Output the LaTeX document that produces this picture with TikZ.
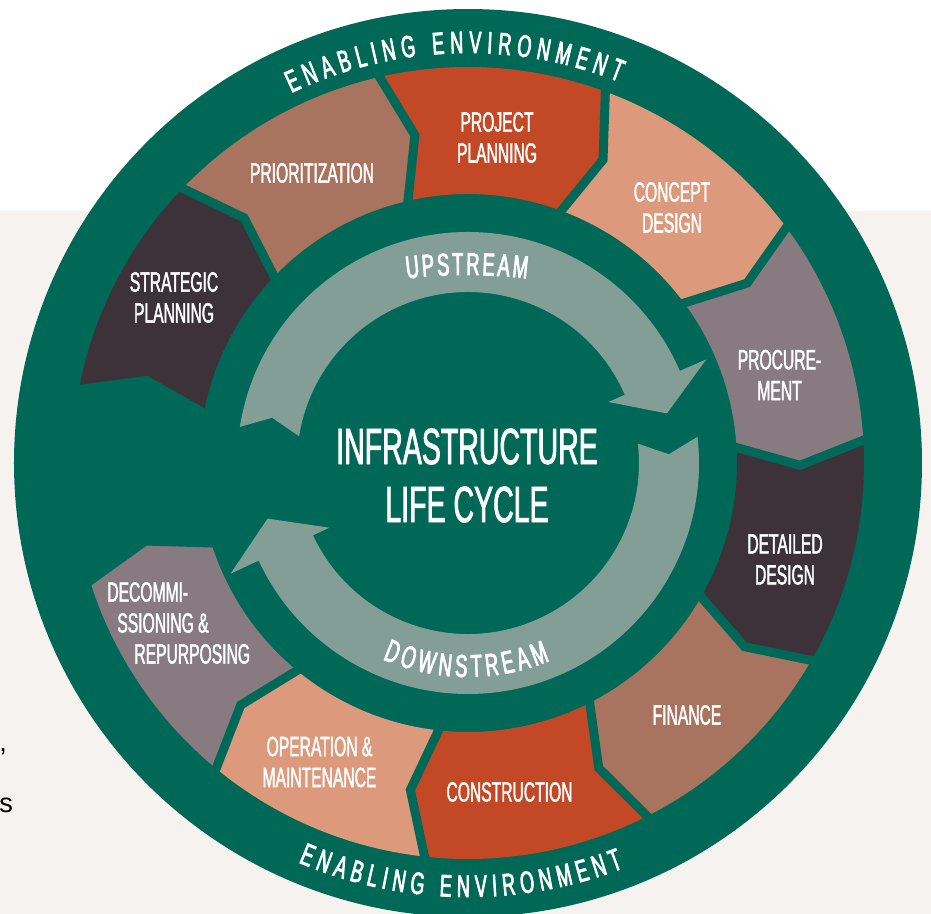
\documentclass[tikz,border=0pt]{standalone}
\usepackage{fontspec}
\usepackage{xcolor}
\usetikzlibrary{decorations.text,positioning}
\newfontfamily\condfont[FakeStretch=0.56,FakeBold=1.5]{Liberation Sans}
\newfontfamily\ringface[FakeStretch=0.58,FakeBold=2.5]{Liberation Sans}
\newfontfamily\fragfont{Liberation Sans}
\newcommand\ringfont{\ringface\fontsize{17.6}{20}\selectfont}
\newcommand\flowfont{\ringface\fontsize{18}{20}\selectfont}
\definecolor{envgreen}{HTML}{006857}
\definecolor{arrowgray}{HTML}{839E97}
\definecolor{pagebeige}{HTML}{F6F2EF}
\definecolor{stagedark}{HTML}{3D3239}
\definecolor{stagebrown}{HTML}{A8735F}
\definecolor{stagered}{HTML}{C24826}
\definecolor{stagesalmon}{HTML}{DC997B}
\definecolor{stagemauve}{HTML}{877B81}
\tikzset{%
	stagetext/.style = {text=white, align=center, inner sep=0pt, font=\condfont\fontsize{15.9}{17.6}\selectfont},
	titletext/.style = {text=white, align=center, inner sep=0pt, font=\condfont\fontsize{29}{33}\selectfont},
	fragtext/.style  = {text=black, inner sep=0pt, font=\fragfont\fontsize{15.4}{18}\selectfont},
	gapline/.style   = {draw=envgreen, line width=5.1pt, line join=miter, line cap=rect},
	flowarrow/.style = {fill=arrowgray},
}

\begin{document}
\begin{tikzpicture}[x=0.02cm,y=0.02cm]
	\useasboundingbox (-468,-451) rectangle (463,463);
	\fill[white] (-468,252) rectangle (463,463);
	\fill[pagebeige] (-468,-451) rectangle (463,252);
	\fill[envgreen] (0,0) circle (454);
	
	% stages of the ring
	\foreach \col [count=\i from 0] in {stagedark,stagebrown,stagered,stagesalmon,stagemauve,stagedark,stagebrown,stagered,stagesalmon,stagemauve}{
		\pgfmathsetmacro\ta{169.3-33.2*\i}
		\pgfmathsetmacro\tb{\ta-33.2}
		\pgfmathsetmacro\pa{\ta-3.7}
		\pgfmathsetmacro\pb{\tb-3.7}
		\fill[\col] (\ta:396) arc[start angle=\ta, end angle=\tb, radius=396] -- (\pb:332) -- (\tb:269) arc[start angle=\tb, end angle=\ta, radius=269] -- (\pa:332) -- cycle;
	}
	\foreach \i in {0,...,10}{
		\pgfmathsetmacro\ta{169.3-33.2*\i}
		\pgfmathsetmacro\pa{\ta-3.7}
		\draw[gapline] (\ta:269) -- (\pa:332) -- (\ta:396);
	}
	
	% upstream and downstream arrows
	\fill[flowarrow] (171:231) arc[start angle=171, end angle=23.5, radius=231] -- (23.5:260) -- (14:205) -- (23.5:153) -- (23.5:171) arc[start angle=23.5, end angle=171, radius=171] -- (167:201) -- cycle;
	\fill[flowarrow] (6.5:231) arc[start angle=6.5, end angle=-155, radius=231] -- (-155:262) -- (-164.5:208) -- (-155:153) -- (-155:171) arc[start angle=-155, end angle=6.5, radius=171] -- (2.5:201) -- cycle;
	
	\path[decorate, decoration={text along path, text={|\flowfont|UPSTREAM}, text align=fit to path, text color=white}] (-61.1,184.4) arc[start angle=96.9, end angle=83.1, radius=500];
	\path[decorate, decoration={text along path, text={|\flowfont|DOWNSTREAM}, text align=fit to path, text color=white}] (246.5:214) arc[start angle=246.5, end angle=292.5, radius=214];
	\path[decorate, decoration={text along path, text={|\ringfont|ENABLING ENVIRONMENT}, text align=fit to path, text color=white}] (115.5:410) arc[start angle=115.5, end angle=68.4, radius=410];
	\path[decorate, decoration={text along path, text={|\ringfont|ENABLING ENVIRONMENT}, text align=fit to path, text color=white}] (247:434) arc[start angle=247, end angle=291, radius=434];
	
	\node[titletext] (title) at (-1,-12.5) {INFRASTRUCTURE\\LIFE CYCLE};
	
	\node[stagetext] (strat) at (-294,165.5) {STRATEGIC\\PLANNING};
	\node[stagetext] (prio) at (-156,290) {PRIORITIZATION};
	\node[stagetext] (projplan) at (29,325.5) {PROJECT\\PLANNING};
	\node[stagetext] (concept) at (204,255.5) {CONCEPT\\DESIGN};
	\node[stagetext] (procure) at (311.5,88) {PROCURE-\\MENT};
	\node[stagetext] (detail) at (317,-96.5) {DETAILED\\DESIGN};
	\node[stagetext] (finance) at (219,-252) {FINANCE};
	\node[stagetext] (construct) at (41.5,-329) {CONSTRUCTION};
	\node[stagetext] (operate) at (-148.5,-299) {OPERATION \&\\MAINTENANCE};
	\node[stagetext, align=left, anchor=west] (decom) at (-361,-160) {DECOMMI-\\\hspace*{5.7pt}SSIONING \&\\\hspace*{15.4pt}REPURPOSING};
	
	\node[fragtext, anchor=base west] (comma) at (-469,-288) {,};
	\node[fragtext, anchor=base west] (lastchar) at (-469,-349) {s};
\end{tikzpicture}
\end{document}
